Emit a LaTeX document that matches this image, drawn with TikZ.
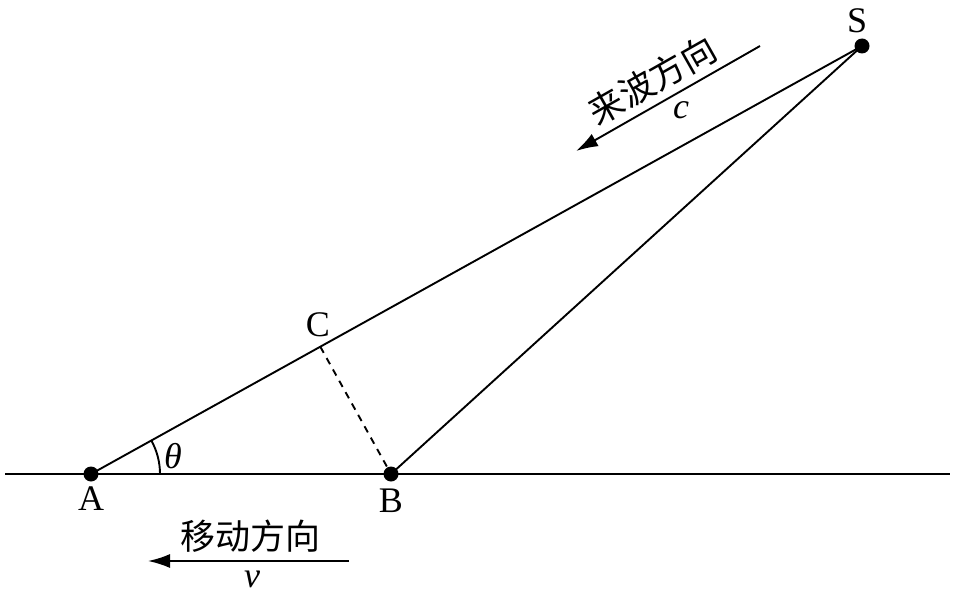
\documentclass[tikz,border=0pt]{standalone}
\usepackage{fontspec}
\setmainfont{Liberation Serif}
\newfontfamily\cjk{Noto Sans CJK SC}
\usetikzlibrary{arrows.meta,calc}
\begin{document}
\begin{tikzpicture}[x=1pt,y=-1pt,
  ln/.style={line width=1.9pt},
  dot/.style={circle,fill=black,inner sep=0pt,minimum size=15pt},
  lbl/.style={font=\fontsize{36}{36}\selectfont,inner sep=0pt},
  cn/.style={font=\cjk\fontsize{35}{35}\selectfont,inner sep=0pt},
  arr/.style={line width=1.9pt,-{Latex[length=22pt,width=14pt]}}]
\useasboundingbox (0,0) rectangle (955,596);
\coordinate (L) at (5,474);
\coordinate (R) at (950,474);
\node[dot] (A) at (91,474) {};
\node[dot] (B) at (391,474) {};
\node[dot] (S) at (862,46) {};
\coordinate (C) at (320.3,346.7);
\draw[ln] (L) -- (R);
\draw[ln] (A.center) -- (S.center);
\draw[ln] (B.center) -- (S.center);
\draw[ln,dash pattern=on 7pt off 6pt] (C) -- (B.center);
\draw[ln] ($(A.center)+(69,0)$) arc[start angle=0,end angle=-29.03,radius=69];
\node[lbl] (tS) at (857,21) {S};
\node[lbl] (tA) at (91,499) {A};
\node[lbl] (tB) at (391,501) {B};
\node[lbl] (tC) at (318,325) {C};
\node[lbl] (tth) at (173,456) {\textit{θ}};
% incoming wave arrow
\coordinate (w1) at (760,46);
\coordinate (w2) at (576,151);
\draw[arr] (w1) -- (w2);
\node[cn,rotate=29.5] (tw) at (652,80) {来波方向};
\node[lbl] (tc) at (681,110) {\textit{c}};
% moving arrow
\coordinate (m1) at (349,561);
\coordinate (m2) at (148,561);
\draw[arr] (m1) -- (m2);
\node[cn] (tm) at (250,536) {移动方向};
\node[lbl] (tv) at (252,579) {\textit{v}};
\end{tikzpicture}
\end{document}
